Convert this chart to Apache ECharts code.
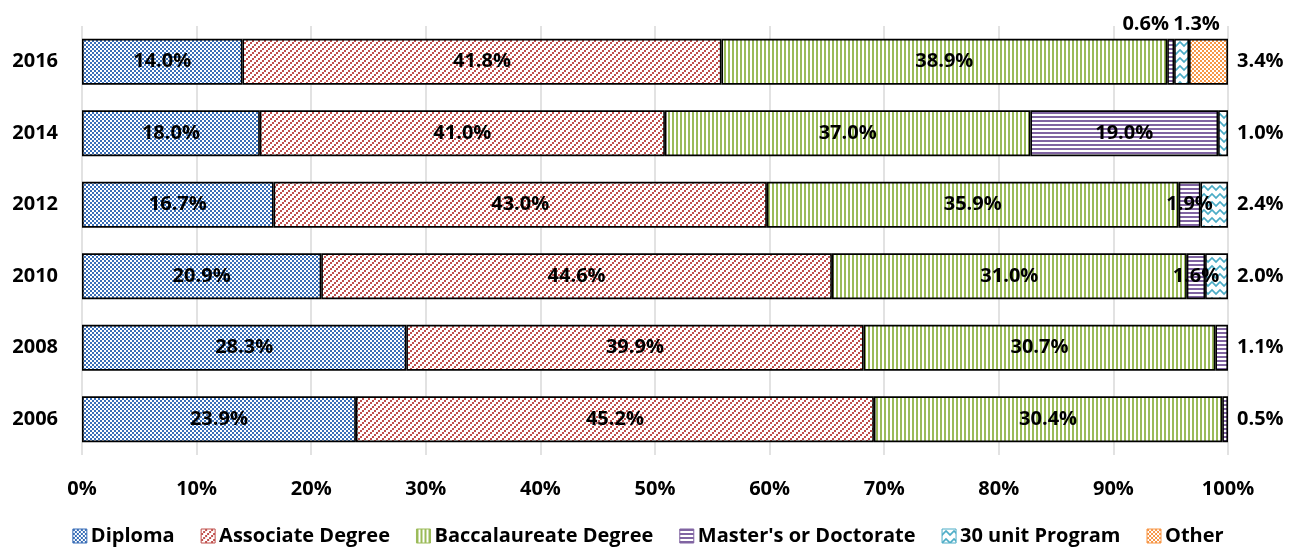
<!DOCTYPE html>
<html>
<head>
<meta charset="utf-8">
<script src="https://cdn.jsdelivr.net/npm/echarts@6/dist/echarts.min.js"></script>
<style>
  html, body { margin: 0; padding: 0; background: #fff; }
  #chart { width: 1296px; height: 548px; }
</style>
</head>
<body>
<div id="chart"></div>
<script>
// Survey years, bottom to top
var years = ['2006', '2008', '2010', '2012', '2014', '2016'];
var seriesNames = ['Diploma', 'Associate Degree', 'Baccalaureate Degree', "Master's or Doctorate", '30 unit Program', 'Other'];

// Reported shares (%) per year
var diploma       = [23.9, 28.3, 20.9, 16.7, 18.0, 14.0];
var associate     = [45.2, 39.9, 44.6, 43.0, 41.0, 41.8];
var baccalaureate = [30.4, 30.7, 31.0, 35.9, 37.0, 38.9];
var masters       = [0.5, 1.1, 1.6, 1.9, 19.0, 0.6];
var thirtyUnit    = [null, null, 2.0, 2.4, 1.0, 1.3];
var other         = [null, null, null, null, null, 3.4];

var xTicks = [0, 10, 20, 30, 40, 50, 60, 70, 80, 90, 100];

var allSeries = [diploma, associate, baccalaureate, masters, thirtyUnit, other];

// Fill patterns for each series
function pattern(w, h, draw) {
  var c = document.createElement('canvas');
  c.width = w; c.height = h;
  var ctx = c.getContext('2d');
  ctx.fillStyle = '#ffffff';
  ctx.fillRect(0, 0, w, h);
  draw(ctx);
  return { image: c, repeat: 'repeat' };
}
var BLUE = '#3a6fb8', RED = '#c0504d', GREEN = '#9bbb59', PURPLE = '#8064a2', AQUA = '#4bacc6', ORANGE = '#f79646';

var fills = [
  pattern(4, 4, function (g) { g.fillStyle = BLUE; g.fillRect(0, 0, 2, 2); g.fillRect(2, 2, 2, 2); }),
  pattern(6, 6, function (g) { g.fillStyle = RED; g.fillRect(4, 0, 2, 2); g.fillRect(2, 2, 2, 2); g.fillRect(0, 4, 2, 2); }),
  pattern(4, 4, function (g) { g.fillStyle = GREEN; g.fillRect(0, 0, 2, 4); }),
  pattern(4, 4, function (g) { g.fillStyle = PURPLE; g.fillRect(0, 0, 4, 2); }),
  pattern(8, 8, function (g) {
    g.strokeStyle = AQUA; g.lineWidth = 1.6;
    g.beginPath(); g.moveTo(-1, 7); g.lineTo(4, 2); g.lineTo(9, 7); g.stroke();
  }),
  pattern(4, 4, function (g) { g.fillStyle = ORANGE; g.fillRect(0, 0, 2, 2); g.fillRect(2, 2, 2, 2); })
];
var edgeColors = [BLUE, RED, GREEN, PURPLE, AQUA, ORANGE];

// Each bar is scaled to its row total so it spans the full width
var rowTotals = years.map(function (_, i) {
  return allSeries.reduce(function (s, arr) { return s + (arr[i] || 0); }, 0);
});

// Label placement for narrow segments
var outsideRight = { 3: [0, 1], 4: [2, 3, 4], 5: [5] };
var aboveOffsets = { 3: { 5: [-25, 0] }, 4: { 5: [15, 0] } };

var labelFont = { fontFamily: 'Open Sans', fontWeight: 'bold', fontSize: 20, color: '#000' };

var series = allSeries.map(function (arr, si) {
  return {
    name: seriesNames[si],
    type: 'bar',
    stack: 'total',
    barCategoryGap: '36%',
    itemStyle: { color: fills[si], borderColor: '#000', borderWidth: 1.6 },
    label: Object.assign({
      show: true,
      position: 'inside',
      formatter: function (p) { return p.data.raw.toFixed(1) + '%'; }
    }, labelFont),
    emphasis: { disabled: true },
    data: arr.map(function (v, yi) {
      if (v == null) return null;
      var item = { value: v / rowTotals[yi] * 100, raw: v };
      if (outsideRight[si] && outsideRight[si].indexOf(yi) >= 0) {
        item.label = { position: 'right', distance: 9 };
      } else if (aboveOffsets[si] && aboveOffsets[si][yi]) {
        item.label = { position: 'top', distance: 5, offset: aboveOffsets[si][yi] };
      }
      return item;
    })
  };
});

var chart = echarts.init(document.getElementById('chart'), null, { renderer: 'canvas' });
chart.setOption({
  animation: false,
  backgroundColor: '#fff',
  grid: { left: 82, right: 68, top: 26, bottom: 93, containLabel: false },
  xAxis: {
    type: 'value',
    min: xTicks[0],
    max: xTicks[xTicks.length - 1],
    interval: xTicks[1] - xTicks[0],
    axisLine: { show: false },
    axisTick: { show: false },
    splitLine: { show: true, lineStyle: { color: '#d9d9d9', width: 1.5 } },
    axisLabel: Object.assign({ margin: 24, formatter: '{value}%' }, labelFont)
  },
  yAxis: {
    type: 'category',
    data: years,
    axisLine: { show: false },
    axisTick: { show: false },
    axisLabel: Object.assign({ margin: 24 }, labelFont)
  },
  legend: {
    top: 521,
    left: 'center',
    itemWidth: 14,
    itemHeight: 14,
    itemGap: 26,
    textStyle: Object.assign({ padding: [0, 0, 0, -1] }, labelFont),
    data: seriesNames.map(function (n, i) {
      return { name: n, icon: 'rect', itemStyle: { borderColor: edgeColors[i], borderWidth: 1 } };
    })
  },
  series: series
});
</script>
</body>
</html>
